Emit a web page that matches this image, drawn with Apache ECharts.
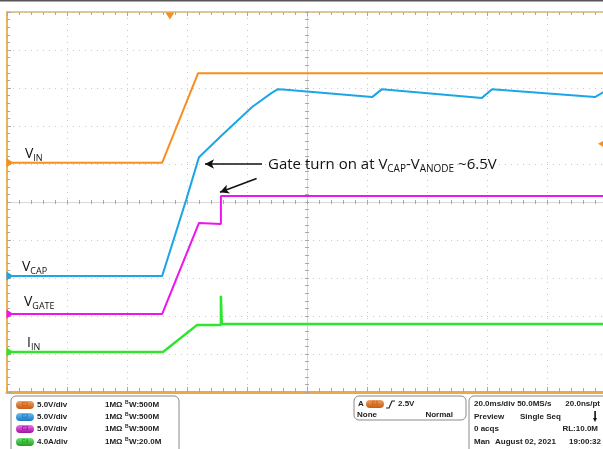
<!DOCTYPE html>
<html>
<head>
<meta charset="utf-8">
<script src="https://cdn.jsdelivr.net/npm/echarts@6/dist/echarts.min.js"></script>
<style>
  html, body { margin: 0; padding: 0; background: #fff; }
  #chart { width: 603px; height: 449px; }
</style>
</head>
<body>
<div id="chart"></div>
<script>
// time in ms (20 ms/div, 0 = screen centre), values in divisions from centre
const vinT = [-100, -48.3, -36.3, 100]
const vinV = [1.03, 1.03, 3.39, 3.39]

const vcapT = [-100, -48.3, -40.3, -36, -29, -18.3, -12, -9.7, -8, 21.7, 25, 58.3, 61.7, 96, 100]
const vcapV = [-1.95, -1.95, 0.05, 1.18, 1.71, 2.5, 2.86, 2.97, 2.96, 2.76, 2.97, 2.74, 2.97, 2.76, 2.95]

const vgateT = [-100, -48.3, -36, -28.7, -28.7, 100]
const vgateV = [-2.95, -2.95, -0.55, -0.58, 0.16, 0.16]

const iinT = [-100, -48, -36.7, -28.7, -28.7, -28.4, 100]
const iinV = [-3.95, -3.95, -3.24, -3.24, -2.47, -3.21, -3.21]

const triggerT = -45.7
const triggerLevel = 1.53

const colors = { vin: '#f78f1e', vcap: '#1ea5e6', vgate: '#ee14ee', iin: '#2ee62e' }
const font = '"Open Sans", "Noto Sans", sans-serif'
const panelFont = '"Liberation Sans", Arial, sans-serif'

const pairs = (t, v) => t.map((x, i) => [x, v[i]])

const chart = echarts.init(document.getElementById('chart'))

const xBase = {
  type: 'value', min: -100, max: 100, interval: 20,
  axisLabel: { show: false }, splitLine: { show: false }
}
const yBase = {
  type: 'value', min: -5, max: 5, interval: 1,
  axisLabel: { show: false }, splitLine: { show: false }
}
const tickGray = { color: '#a8a8a8', width: 1 }

function edgeMarker(t, v, color, rotate) {
  return { coord: [t, v], symbol: 'triangle', symbolSize: [9, 7], symbolRotate: rotate, itemStyle: { color } }
}

function trace(name, t, v, color, extra) {
  return Object.assign({
    name, type: 'line', data: pairs(t, v), symbol: 'none', animation: false,
    lineStyle: { color, width: 2 }, z: 5
  }, extra || {})
}

function label(x, y, main, sub) {
  return {
    type: 'text', x, y, z: 50,
    style: {
      text: '{m|' + main + '}{s|' + sub + '}',
      rich: {
        m: { fontSize: 14, fontFamily: font, fill: '#111', lineHeight: 18 },
        s: { fontSize: 9, fontFamily: font, fill: '#111', lineHeight: 9, verticalAlign: 'bottom' }
      }
    }
  }
}

function badge(x, y, text, c1, c2) {
  return {
    type: 'group', x, y, children: [
      { type: 'rect', shape: { x: 0, y: 0, width: 18, height: 8, r: 4 },
        style: { fill: { type: 'linear', x: 0, y: 0, x2: 0, y2: 1, colorStops: [{ offset: 0, color: c1 }, { offset: 1, color: c2 }] } } },
      { type: 'text', x: 9, y: 4, style: { text: text, font: 'bold 5px ' + panelFont, fill: c2, align: 'center', verticalAlign: 'middle' } }
    ]
  }
}

function ptext(x, y, text, align) {
  return { type: 'text', x, y, style: { text, font: 'bold 8px ' + panelFont, fill: '#222', align: align || 'left', verticalAlign: 'middle' } }
}

const channels = [
  ['C1', '5.0V/div', '500M', '#f0a060', '#c85a10'],
  ['C2', '5.0V/div', '500M', '#70c0f0', '#1a78c0'],
  ['C3', '5.0V/div', '500M', '#f070f0', '#a010a0'],
  ['C4', '4.0A/div', '20.0M', '#70e070', '#20a020']
]
const rowY = [405, 417, 429, 442]

const panel = [
  { type: 'rect', shape: { x: 0, y: 0, width: 603, height: 1.5 }, style: { fill: '#555' } },
  { type: 'rect', shape: { x: 11, y: 396, width: 168, height: 60, r: 5 }, style: { fill: '#fff', stroke: '#8a8a8a', lineWidth: 1 } },
  { type: 'rect', shape: { x: 354, y: 396, width: 112, height: 24, r: 5 }, style: { fill: '#fff', stroke: '#8a8a8a', lineWidth: 1 } },
  { type: 'rect', shape: { x: 469, y: 396, width: 150, height: 60, r: 5 }, style: { fill: '#fff', stroke: '#8a8a8a', lineWidth: 1 } }
]
channels.forEach((c, i) => {
  panel.push(badge(16, rowY[i] - 4, c[0], c[3], c[4]))
  panel.push(ptext(37, rowY[i], c[1]))
  panel.push(ptext(105, rowY[i], '1MΩ'))
  panel.push({ type: 'text', x: 125, y: rowY[i] - 2, style: { text: 'B', font: 'bold 5px ' + panelFont, fill: '#222', verticalAlign: 'middle' } })
  panel.push(ptext(129, rowY[i], 'W:' + c[2]))
})
panel.push(
  ptext(358, 404, 'A'),
  badge(366, 400, 'C1', '#f0a060', '#c85a10'),
  { type: 'polyline', shape: { points: [[386, 408], [389, 408], [392, 401], [395, 401]] }, style: { stroke: '#222', lineWidth: 1.2, fill: null } },
  ptext(398, 404, '2.5V'),
  ptext(357, 415, 'None'),
  ptext(453, 415, 'Normal', 'right'),
  ptext(474, 404, '20.0ms/div 50.0MS/s'),
  ptext(600, 404, '20.0ns/pt', 'right'),
  ptext(474, 417, 'Preview'),
  ptext(520, 417, 'Single Seq'),
  { type: 'polygon', shape: { points: [[593, 418], [597, 418], [595, 422]] }, style: { fill: '#111' } },
  { type: 'rect', shape: { x: 594.3, y: 411, width: 1.6, height: 8 }, style: { fill: '#111' } },
  ptext(474, 429, '0 acqs'),
  ptext(598, 429, 'RL:10.0M', 'right'),
  ptext(474, 442, 'Man'),
  ptext(495, 442, 'August 02, 2021'),
  ptext(601, 442, '19:00:32', 'right')
)

const texts = [
  label(25, 145, 'V', 'IN'),
  label(22, 258, 'V', 'CAP'),
  label(24, 293, 'V', 'GATE'),
  label(27, 334, 'I', 'IN'),
  {
    type: 'text', x: 268, y: 156, z: 50,
    style: {
      text: '{m|Gate turn on at V}{s|CAP}{m|-V}{s|ANODE}{m| ~6.5V}',
      rich: {
        m: { fontSize: 15, fontFamily: font, fill: '#111', lineHeight: 18 },
        s: { fontSize: 10, fontFamily: font, fill: '#111', lineHeight: 10, verticalAlign: 'bottom' }
      }
    }
  }
]

const option = {
  animation: false,
  backgroundColor: '#fff',
  grid: { left: 7, top: 12, width: 600, height: 380, outerBoundsMode: 'none', containLabel: false },
  xAxis: [
    Object.assign({}, xBase, {
      position: 'bottom',
      axisLine: { onZero: false, lineStyle: { color: '#eda945', width: 3 } },
      axisTick: { inside: true, length: 5, lineStyle: tickGray },
      minorTick: { show: true, splitNumber: 5, length: 4, lineStyle: tickGray },
      splitLine: { show: true, lineStyle: { color: '#c8c8c8', width: 1, type: [1, 5] } }
    }),
    Object.assign({}, xBase, {
      position: 'top',
      axisLine: { onZero: false, lineStyle: { color: '#d6b672', width: 1.5 } },
      axisTick: { inside: true, length: 4, lineStyle: tickGray },
      minorTick: { show: true, splitNumber: 5, length: 3, lineStyle: tickGray }
    }),
    Object.assign({}, xBase, {
      position: 'bottom',
      axisLine: { onZero: true, onZeroAxisIndex: 0, lineStyle: { color: '#d8d8d8', width: 1 } },
      axisTick: { inside: true, length: 2, lineStyle: tickGray },
      minorTick: { show: true, splitNumber: 5, length: 2, lineStyle: tickGray }
    }),
    Object.assign({}, xBase, {
      position: 'bottom',
      axisLine: { onZero: true, onZeroAxisIndex: 0, lineStyle: { color: '#d8d8d8', width: 1 } },
      axisTick: { inside: false, length: 2, lineStyle: tickGray },
      minorTick: { show: true, splitNumber: 5, length: 2, lineStyle: tickGray }
    })
  ],
  yAxis: [
    Object.assign({}, yBase, {
      position: 'left',
      axisLine: { show: true, onZero: false, lineStyle: { color: '#eeb25a', width: 2 } },
      axisTick: { show: true, inside: true, length: 4, lineStyle: tickGray },
      minorTick: { show: true, splitNumber: 5, length: 3, lineStyle: tickGray },
      splitLine: { show: true, lineStyle: { color: '#c8c8c8', width: 1, type: [1, 5] } }
    }),
    Object.assign({}, yBase, {
      position: 'left',
      axisLine: { show: true, onZero: true, onZeroAxisIndex: 0, lineStyle: { color: '#d8d8d8', width: 1 } },
      axisTick: { show: true, inside: true, length: 2, lineStyle: tickGray },
      minorTick: { show: true, splitNumber: 5, length: 2, lineStyle: tickGray }
    }),
    Object.assign({}, yBase, {
      position: 'left',
      axisLine: { show: true, onZero: true, onZeroAxisIndex: 0, lineStyle: { color: '#d8d8d8', width: 1 } },
      axisTick: { show: true, inside: false, length: 2, lineStyle: tickGray },
      minorTick: { show: true, splitNumber: 5, length: 2, lineStyle: tickGray }
    })
  ],
  series: [
    trace('VIN', vinT, vinV, colors.vin, {
      z: 4,
      markPoint: {
        silent: true, label: { show: false },
        data: [
          Object.assign(edgeMarker(vinT[0], vinV[0], colors.vin, -90), { symbolOffset: [3, 0] }),
          Object.assign(edgeMarker(triggerT, 5, colors.vin, 180), { symbolOffset: [0, 4] }),
          Object.assign(edgeMarker(98, triggerLevel, colors.vin, 90), { symbolOffset: [0, 0], symbolSize: [7, 6] })
        ]
      }
    }),
    trace('VCAP', vcapT, vcapV, colors.vcap, {
      markPoint: { silent: true, label: { show: false }, data: [Object.assign(edgeMarker(vcapT[0], vcapV[0], colors.vcap, -90), { symbolOffset: [3, 0] })] }
    }),
    trace('VGATE', vgateT, vgateV, colors.vgate, {
      markPoint: { silent: true, label: { show: false }, data: [Object.assign(edgeMarker(vgateT[0], vgateV[0], colors.vgate, -90), { symbolOffset: [3, 0] })] }
    }),
    trace('IIN', iinT, iinV, colors.iin, {
      lineStyle: { color: colors.iin, width: 2.5 },
      markPoint: { silent: true, label: { show: false }, data: [Object.assign(edgeMarker(iinT[0], iinV[0], colors.iin, -90), { symbolOffset: [3, 0] })] }
    }),
    {
      // annotation arrows
      type: 'line', data: [], silent: true,
      markLine: {
        silent: true, animation: false,
        symbol: ['none', 'arrow'], symbolSize: [7, 9],
        label: { show: false },
        lineStyle: { color: '#111', width: 1.5, type: 'solid' },
        data: [
          [{ coord: [-15, 1.0] }, { coord: [-34, 1.0] }],
          [{ coord: [-16.8, 0.62] }, { coord: [-29, 0.255] }]
        ]
      }
    }
  ],
  graphic: texts.concat(panel)
}

chart.setOption(option)
</script>
</body>
</html>
